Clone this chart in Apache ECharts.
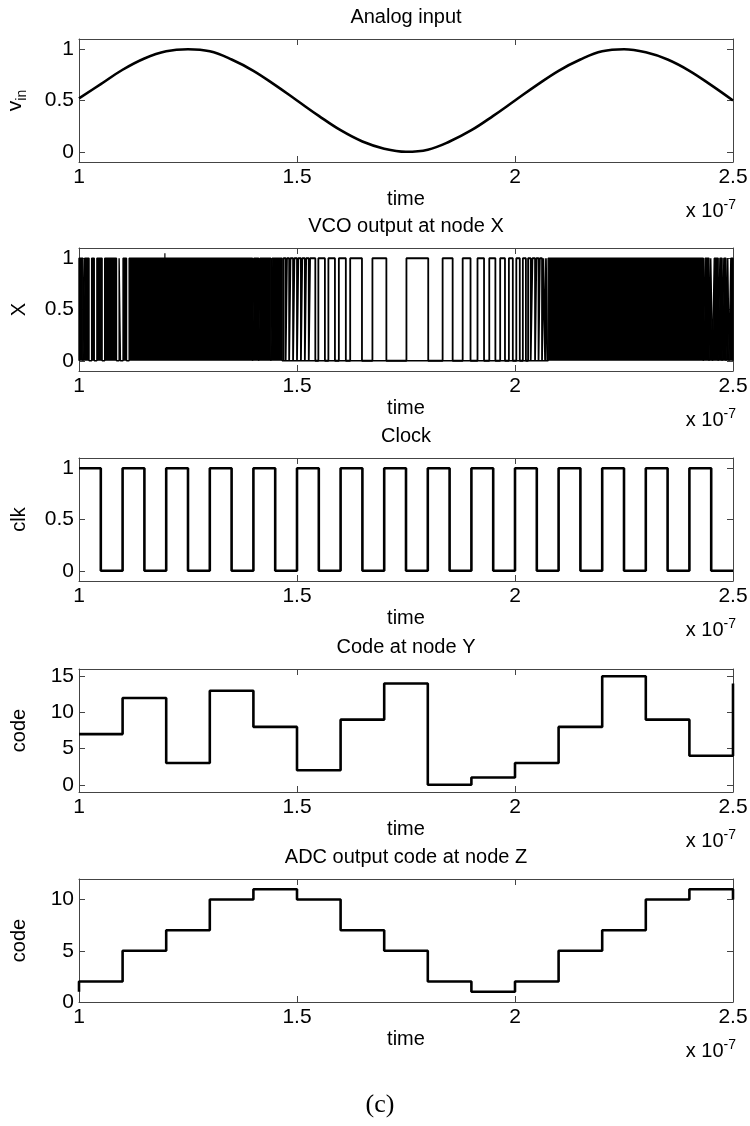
<!DOCTYPE html>
<html><head><meta charset="utf-8">
<script src="https://cdn.jsdelivr.net/npm/echarts@6/dist/echarts.min.js"></script>
<style>html,body{margin:0;padding:0;background:#fff}#c{width:750px;height:1126px}</style>
</head><body><div id="c"></div>
<script>
// ---------------- data (time in units of 1e-7 s) ----------------
const xTickValues = [1, 1.5, 2, 2.5];

const sineT = [1.00,1.05,1.10,1.15,1.20,1.25,1.30,1.35,1.40,1.45,1.50,1.55,1.60,1.65,1.70,1.75,1.80,1.85,1.90,1.95,2.00,2.05,2.10,2.15,2.20,2.25,2.30,2.35,2.40,2.45,2.50];
const sineV = [0.52,0.66,0.80,0.91,0.98,1.00,0.98,0.90,0.79,0.65,0.50,0.35,0.21,0.10,0.03,0.00,0.02,0.10,0.21,0.35,0.50,0.65,0.79,0.90,0.98,1.00,0.97,0.90,0.79,0.65,0.50];

// regions where the VCO output toggles too fast to resolve (solid black)
const vcoDenseBands = [[1.000,1.009],[1.013,1.023],[1.029,1.035],[1.041,1.053],[1.059,1.086],[1.092,1.095],[1.101,1.109],[1.115,1.398],
  [1.401,1.412],[1.415,1.440],[1.443,1.466],
  [2.076,2.432],[2.436,2.445],[2.449,2.453],[2.457,2.466],[2.470,2.475],[2.479,2.484],[2.488,2.491],[2.495,2.500]];
// resolvable high pulses [rise, fall]
const vcoHighs = [[1.469,1.474],[1.477,1.482],[1.485,1.491],[1.494,1.500],[1.503,1.509],[1.512,1.518],[1.521,1.527],[1.530,1.542],[1.549,1.564],
  [1.572,1.587],[1.596,1.612],[1.622,1.649],[1.673,1.705],[1.751,1.801],[1.834,1.857],[1.880,1.898],[1.914,1.929],[1.941,1.955],
  [1.966,1.977],[1.986,1.995],[2.003,2.011],[2.018,2.025],[2.030,2.036],[2.040,2.046],[2.049,2.054],[2.057,2.062],[2.065,2.069],[2.071,2.074]];
const vcoSpike = [1.197, 1.05];

const clockHighs = [[1.00,1.05],[1.10,1.15],[1.20,1.25],[1.30,1.35],[1.40,1.45],[1.50,1.55],[1.60,1.65],[1.70,1.75],
  [1.80,1.85],[1.90,1.95],[2.00,2.05],[2.10,2.15],[2.20,2.25],[2.30,2.35],[2.40,2.45]];

const codeT = [1.0,1.1,1.2,1.3,1.4,1.5,1.6,1.7,1.8,1.9,2.0,2.1,2.2,2.3,2.4];
const codeY = [7,12,3,13,8,2,9,14,0,1,3,8,15,9,4];
const codeYEnd = 14;
const codeZ = [2,5,7,10,11,10,7,5,2,1,2,5,7,10,11];
const codeZPrev = 1;
const codeZEnd = 10;

const panelTitles = ['Analog input','VCO output at node X','Clock','Code at node Y','ADC output code at node Z'];
const yNames = ['{v|v}{s|in}','X','clk','code','code'];
const yRanges = [[-0.1,1.1],[-0.1,1.1],[-0.1,1.1],[-1,16],[0,12]];
const yTicks = [[0,0.5,1],[0,0.5,1],[0,0.5,1],[0,5,10,15],[0,5,10]];

// ---------------- layout ----------------
const FONT = '"Liberation Sans", Arial, Helvetica, sans-serif';
const L = 79, R = 733, PH = 123;
const tops = [39, 248, 458, 669, 879];
const boxC = '#444';
const TF = 20;   // title / axis-name font
const LF = 21;   // tick label font

const grid = [], xAxis = [], yAxis = [], title = [], series = [];
tops.forEach((top, i) => {
  grid.push({left: L, width: R - L, top: top, height: PH, containLabel: false, outerBoundsMode: 'none'});
  const common = {gridIndex: i, type: 'value', min: 1, max: 2.5, interval: 0.5,
    axisLine: {show: true, onZero: false, lineStyle: {color: boxC, width: 1}},
    axisTick: {show: true, inside: true, length: 6, customValues: xTickValues, lineStyle: {color: boxC, width: 1}},
    splitLine: {show: false}};
  xAxis.push(Object.assign({}, common, {position: 'bottom',
    axisLabel: {show: true, customValues: xTickValues, fontSize: LF, color: '#000', fontFamily: FONT, margin: 5,
      showMinLabel: true, showMaxLabel: true},
    name: 'time', nameLocation: 'middle', nameGap: 27,
    nameTextStyle: {fontSize: TF, color: '#000', fontFamily: FONT}}));
  xAxis.push(Object.assign({}, common, {position: 'top', axisLabel: {show: false}}));
  const yc = {gridIndex: i, type: 'value', min: yRanges[i][0], max: yRanges[i][1],
    axisLine: {show: true, onZero: false, lineStyle: {color: boxC, width: 1}},
    axisTick: {show: true, inside: true, length: 6, customValues: yTicks[i], lineStyle: {color: boxC, width: 1}},
    splitLine: {show: false}};
  yAxis.push(Object.assign({}, yc, {position: 'left',
    axisLabel: {show: true, customValues: yTicks[i], fontSize: LF, color: '#000', fontFamily: FONT, margin: 5,
      showMinLabel: true, showMaxLabel: true},
    name: yNames[i], nameLocation: 'middle', nameRotate: 90, nameGap: 50,
    nameTextStyle: {fontSize: TF, color: '#000', fontFamily: FONT,
      rich: {v: {fontSize: 21, fontFamily: FONT, color: '#000', lineHeight: 28},
             s: {fontSize: 14, fontFamily: FONT, color: '#000', lineHeight: 14, verticalAlign: 'bottom'}}}}));
  yAxis.push(Object.assign({}, yc, {position: 'right', axisLabel: {show: false}}));

  title.push({text: panelTitles[i], left: (L + R) / 2, textAlign: 'center', top: top - 32, padding: 0,
    textStyle: {fontSize: TF, fontWeight: 'normal', color: '#000', fontFamily: FONT}});
  title.push({text: '{a|x 10}{b|-7}', right: 750 - 736, top: top + PH + 36, padding: 0,
    textStyle: {fontWeight: 'normal',
      rich: {a: {fontSize: 20, fontWeight: 'normal', color: '#000', fontFamily: FONT, lineHeight: 26},
             b: {fontSize: 14, fontWeight: 'normal', color: '#000', fontFamily: FONT, lineHeight: 14, verticalAlign: 'top'}}}});
});
title.push({text: '(c)', left: 380, textAlign: 'center', top: 1092, padding: 0,
  textStyle: {fontSize: 26, fontWeight: 'normal', color: '#000', fontFamily: '"Liberation Serif", "Times New Roman", serif'}});

const lineBase = {type: 'line', symbol: 'none', animation: false, silent: true};

// panel 1: sine
series.push(Object.assign({}, lineBase, {xAxisIndex: 0, yAxisIndex: 0, smooth: 0.4,
  data: sineT.map((t, k) => [t, sineV[k]]), lineStyle: {color: '#000', width: 2.6}}));

// panel 2: VCO dense bands + resolved pulses
const denseData = [];
vcoDenseBands.forEach(b => { denseData.push([b[0], 0], [b[0], 1], [b[1], 1], [b[1], 0]); });
series.push(Object.assign({}, lineBase, {xAxisIndex: 2, yAxisIndex: 2, data: denseData,
  lineStyle: {color: '#000', width: 1.4}, areaStyle: {color: '#000', opacity: 1}}));
const pulseData = [];
vcoHighs.forEach(h => { pulseData.push([h[0], 0], [h[0], 1], [h[1], 1], [h[1], 0]); });
series.push(Object.assign({}, lineBase, {xAxisIndex: 2, yAxisIndex: 2, data: pulseData,
  lineStyle: {color: '#000', width: 1.8}}));
series.push(Object.assign({}, lineBase, {xAxisIndex: 2, yAxisIndex: 2,
  data: [[vcoSpike[0], 1], [vcoSpike[0], vcoSpike[1]]], lineStyle: {color: '#000', width: 1.2}}));

// panel 3: clock
const clkData = [];
clockHighs.forEach((h, k) => {
  if (k > 0) clkData.push([h[0], 0]);
  clkData.push([h[0], 1], [h[1], 1], [h[1], 0]);
});
clkData.push([2.5, 0]);
series.push(Object.assign({}, lineBase, {xAxisIndex: 4, yAxisIndex: 4, data: clkData,
  lineStyle: {color: '#000', width: 2.6}}));

// panel 4: code at node Y
const yData = codeT.map((t, k) => [t, codeY[k]]);
yData.push([2.5, codeYEnd]);
series.push(Object.assign({}, lineBase, {xAxisIndex: 6, yAxisIndex: 6, step: 'end', data: yData,
  lineStyle: {color: '#000', width: 2.6}}));

// panel 5: ADC output code at node Z
const zData = [[1.0, codeZPrev]].concat(codeT.map((t, k) => [t, codeZ[k]]));
zData.push([2.5, codeZEnd]);
series.push(Object.assign({}, lineBase, {xAxisIndex: 8, yAxisIndex: 8, step: 'end', data: zData,
  lineStyle: {color: '#000', width: 2.6}}));

const chart = echarts.init(document.getElementById('c'), null, {renderer: 'canvas'});
chart.setOption({backgroundColor: '#fff', animation: false, grid, xAxis, yAxis, title, series});
</script></body></html>
